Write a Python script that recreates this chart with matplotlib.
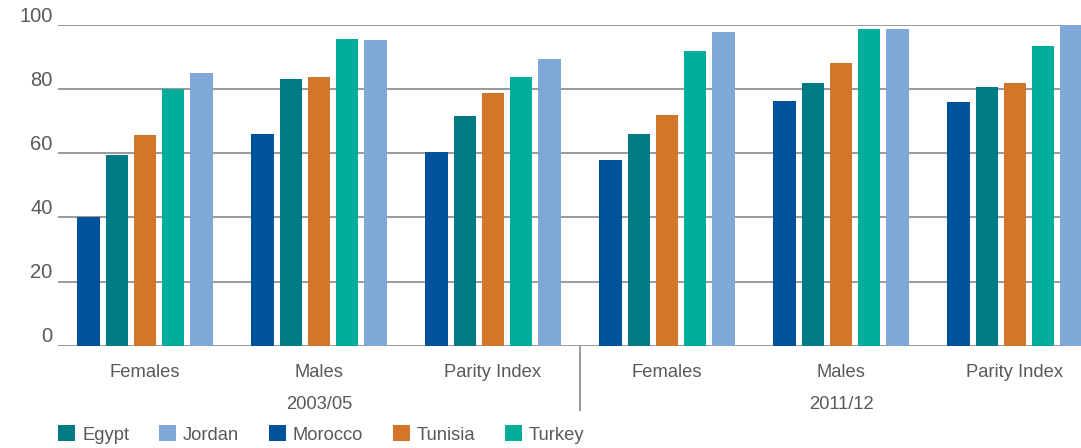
import matplotlib
matplotlib.use('Agg')
import matplotlib.pyplot as plt
import matplotlib.transforms as mtransforms
from matplotlib.patches import Patch

CATEGORIES = ['Females', 'Males', 'Parity Index', 'Females', 'Males', 'Parity Index']
PERIODS = ['2003/05', '2011/12']
COUNTRIES = ['Morocco', 'Egypt', 'Tunisia', 'Turkey', 'Jordan']
LEGEND_ORDER = ['Egypt', 'Jordan', 'Morocco', 'Tunisia', 'Turkey']

morocco = [40.0, 66.2, 60.5, 58.0, 76.5, 76.2]
egypt = [59.6, 83.3, 71.8, 66.2, 82.1, 80.8]
tunisia = [65.8, 84.0, 79.0, 72.1, 88.4, 82.1]
turkey = [80.0, 95.8, 84.0, 92.1, 99.0, 93.7]
jordan = [85.2, 95.5, 89.6, 98.0, 99.0, 100.0]
VALUES = {'Morocco': morocco, 'Egypt': egypt, 'Tunisia': tunisia,
          'Turkey': turkey, 'Jordan': jordan}

COLORS = {'Morocco': '#00529B', 'Egypt': '#007A84', 'Tunisia': '#D4762A',
          'Turkey': '#00AD9D', 'Jordan': '#7FA7D8'}
TEXT = '#595959'
GRID = '#9a9a9a'

plt.rcParams['font.family'] = ['Liberation Sans', 'DejaVu Sans']

W, H = 1081, 448
FS = 13.2
fig = plt.figure(figsize=(W / 100, H / 100), dpi=100)
ax = fig.add_axes([58 / W, (H - 345.5) / H, 1044 / W, 320 / H])

step = 0.161
width = 0.132
x = range(len(CATEGORIES))
for k, c in enumerate(COUNTRIES):
    ax.bar([i + (k - 2) * step for i in x], VALUES[c], width=width,
           color=COLORS[c], zorder=3)

ax.set_xlim(-0.5, len(CATEGORIES) - 0.5)
ax.set_ylim(0, 100)
ax.set_yticks(range(0, 101, 20))
ax.grid(axis='y', color=GRID, linewidth=1.4, zorder=0)
ax.set_xticks([])
for s in ax.spines.values():
    s.set_visible(False)
ax.tick_params(axis='y', length=0, pad=4, labelsize=14.5, labelcolor=TEXT)
for lab in ax.get_yticklabels():
    lab.set_va('bottom')

trans = mtransforms.blended_transform_factory(ax.transData, ax.transAxes)
for i, name in enumerate(CATEGORIES):
    ax.text(i, -0.083, name, transform=trans, ha='center', va='center',
            fontsize=FS, color=TEXT)
for j, p in enumerate(PERIODS):
    ax.text(1 + 3 * j, -0.183, p, transform=trans, ha='center', va='center',
            fontsize=FS, color=TEXT)
ax.plot([2.5, 2.5], [0, -0.202], transform=trans, color=GRID, lw=1.4,
        clip_on=False)

handles = [Patch(facecolor=COLORS[c], label=c) for c in LEGEND_ORDER]
fig.legend(handles=handles, loc='center left', ncol=5, frameon=False,
           bbox_to_anchor=(58 / W, 1 - 434.5 / H), borderpad=0, borderaxespad=0,
           handlelength=0.93, handleheight=0.93, handletextpad=0.38,
           columnspacing=1.62, fontsize=FS, labelcolor=TEXT)

fig.savefig('out.png', dpi=100)
